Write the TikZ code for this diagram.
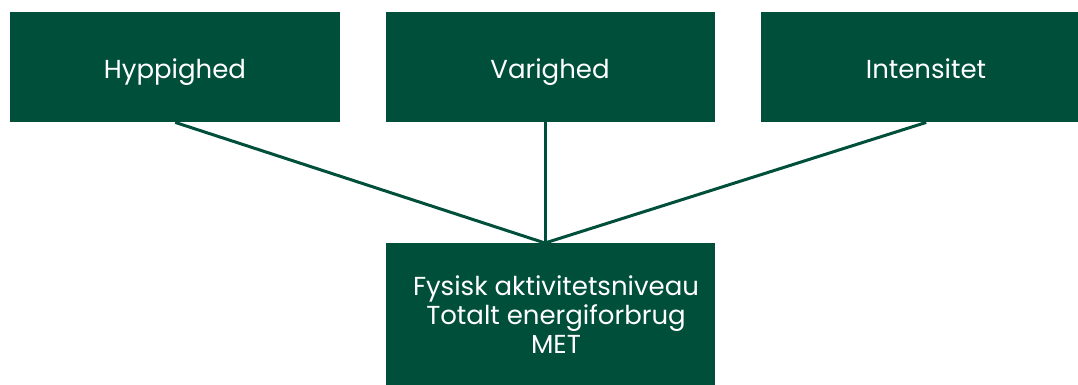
\documentclass[tikz,border=0pt]{standalone}
\usepackage{fontspec}
\setmainfont{Poppins}
\definecolor{dgreen}{HTML}{004F3A}
\begin{document}
\begin{tikzpicture}[x=1pt,y=-1pt,
  box/.style={fill=dgreen,draw=none,anchor=north west,inner sep=0pt},
  lbl/.style={text=white,font=\fontsize{26}{29}\selectfont,align=center,anchor=base,inner sep=0pt},
  link/.style={draw=dgreen,line width=3pt}]
\useasboundingbox (0,0) rectangle (1078,385);
\clip (0,0) rectangle (1078,385);
\node[box,minimum width=330pt,minimum height=110pt] (h) at (10,12) {};
\node[box,minimum width=329pt,minimum height=110pt] (v) at (386,12) {};
\node[box,minimum width=330pt,minimum height=110pt] (i) at (761,12) {};
\node[box,minimum width=329pt,minimum height=150pt] (f) at (386,243) {};
\node[lbl] (ht) at (175,79) {Hyppighed};
\node[lbl] (vt) at (550,79) {Varighed};
\node[lbl] (it) at (926,79) {Intensitet};
\node[lbl] (ft) at (556,353) {Fysisk aktivitetsniveau\\Totalt energiforbrug\\MET};
\coordinate (m) at (545,243);
\coordinate (vb) at (545,122);
\draw[link] (h.south) -- (m);
\draw[link] (vb) -- (m);
\draw[link] (i.south) -- (m);
\end{tikzpicture}
\end{document}
